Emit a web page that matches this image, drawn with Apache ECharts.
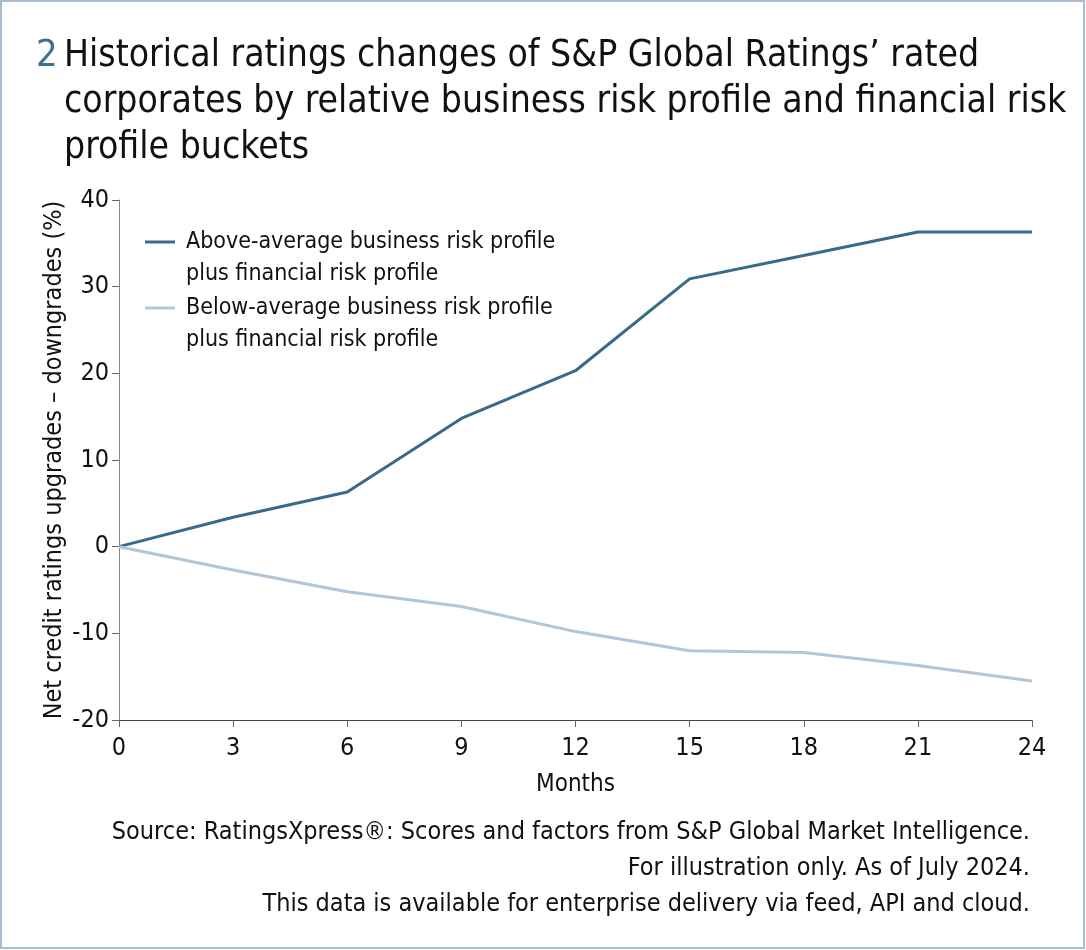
<!DOCTYPE html>
<html>
<head>
<meta charset="utf-8">
<script src="https://cdn.jsdelivr.net/npm/echarts@6/dist/echarts.min.js"></script>
<style>
html,body{margin:0;padding:0;background:#fff;}
#chart{width:1086px;height:950px;}
</style>
</head>
<body>
<div id="chart"></div>
<script>
const months = [0, 3, 6, 9, 12, 15, 18, 21, 24];
const aboveAverage = [0, 3.4, 6.3, 14.8, 20.3, 30.9, 33.6, 36.3, 36.3];
const belowAverage = [0, -2.7, -5.2, -6.9, -9.8, -12.0, -12.2, -13.7, -15.5];
const seriesNames = [
  'Above-average business risk profile\nplus financial risk profile',
  'Below-average business risk profile\nplus financial risk profile'
];
const titleNumber = '2';
const titleText = 'Historical ratings changes of S&P Global Ratings\u2019 rated\ncorporates by relative business risk profile and financial risk\nprofile buckets';
const sourceLines = [
  'Source: RatingsXpress\u00ae: Scores and factors from S&P Global Market Intelligence.',
  'For illustration only. As of July 2024.',
  'This data is available for enterprise delivery via feed, API and cloud.'
];
const FONT = '"DejaVu Sans Condensed", "Liberation Sans Narrow", "Roboto", sans-serif';
const darkBlue = '#386a89';
const lightBlue = '#b2c6d7';

const chart = echarts.init(document.getElementById('chart'), null, {renderer: 'canvas'});
chart.setOption({
  backgroundColor: '#ffffff',
  animation: false,
  textStyle: {fontFamily: FONT},
  title: [
    {text: titleNumber, left: 31, top: 28,
     textStyle: {fontFamily: FONT, fontSize: 38, fontWeight: 'normal', color: '#3d7193', lineHeight: 46}},
    {text: titleText, left: 59, top: 28,
     textStyle: {fontFamily: FONT, fontSize: 37, fontWeight: 'normal', color: '#111', lineHeight: 46}}
  ],
  legend: {
    orient: 'vertical', left: 140, top: 221,
    itemWidth: 36, itemHeight: 35, itemGap: 2,
    symbolKeepAspect: false,
    icon: 'path://M0,0H30V3H0Z M36,35',
    textStyle: {fontFamily: FONT, fontSize: 23, color: '#111', lineHeight: 32},
    data: seriesNames
  },
  grid: {left: 119, right: 54, top: 200, bottom: 230, containLabel: false},
  xAxis: {
    type: 'value', min: 0, max: 24, interval: 3,
    name: 'Months', nameLocation: 'middle', nameGap: 53,
    nameTextStyle: {fontFamily: FONT, fontSize: 24, color: '#111'},
    axisLine: {onZero: false, lineStyle: {color: '#444', width: 1}},
    axisTick: {show: true, length: 7, lineStyle: {color: '#666'}},
    axisLabel: {fontFamily: FONT, fontSize: 25, color: '#111', margin: 16},
    splitLine: {show: false}
  },
  yAxis: {
    type: 'value', min: -20, max: 40, interval: 10,
    name: 'Net credit ratings upgrades \u2013 downgrades (%)', nameLocation: 'middle', nameGap: 52,
    nameMoveOverlap: false,
    nameTextStyle: {fontFamily: FONT, fontSize: 25, color: '#111'},
    axisLine: {show: true, onZero: false, lineStyle: {color: '#888', width: 1}},
    axisTick: {show: true, length: 7, lineStyle: {color: '#666'}},
    axisLabel: {fontFamily: FONT, fontSize: 25, color: '#111', margin: 10},
    splitLine: {show: false}
  },
  series: [
    {name: seriesNames[0], type: 'line', data: months.map((m, i) => [m, aboveAverage[i]]),
     showSymbol: false, lineStyle: {color: darkBlue, width: 3}, itemStyle: {color: darkBlue}},
    {name: seriesNames[1], type: 'line', data: months.map((m, i) => [m, belowAverage[i]]),
     showSymbol: false, lineStyle: {color: lightBlue, width: 3}, itemStyle: {color: lightBlue}}
  ],
  graphic: [
    {type: 'rect', shape: {x: 1, y: 1, width: 1083, height: 947}, silent: true,
     style: {fill: 'none', stroke: '#a9bccd', lineWidth: 2}}
  ].concat(sourceLines.map((t, i) => ({
    type: 'text', right: 56, top: 820 + i * 36,
    style: {text: t, font: '25px ' + FONT, fill: '#111'}
  })))
});
</script>
</body>
</html>
